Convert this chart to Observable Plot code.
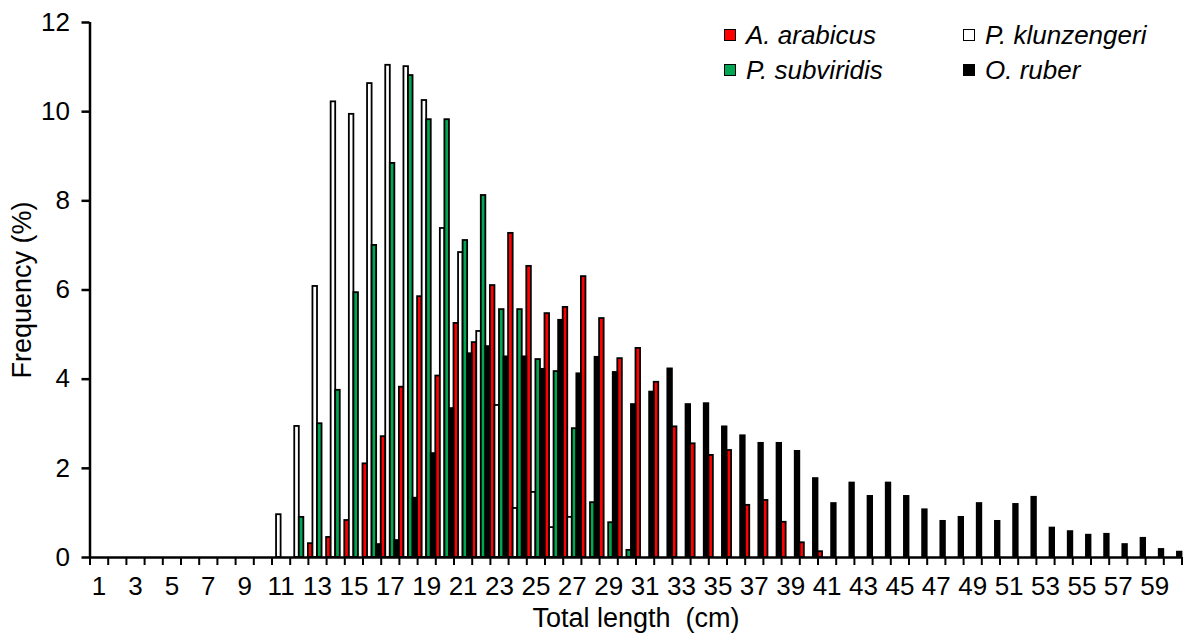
<!DOCTYPE html>
<html>
<head>
<meta charset="utf-8">
<script src="https://cdn.jsdelivr.net/npm/d3@7"></script>
<script src="https://cdn.jsdelivr.net/npm/@observablehq/plot@0.6"></script>
<style>
  body { margin: 0; background: #fff; font-family: Arial, "Liberation Sans", sans-serif; }
  #wrap { position: relative; width: 1184px; height: 634px; overflow: hidden; }
  #wrap svg { display: block; }
  .legend { position: absolute; left: 0; top: 0; width: 1184px; height: 100px; font-size: 26px; font-style: italic; color: #000; pointer-events: none; }
  .item { position: absolute; display: flex; align-items: center; height: 30px; white-space: nowrap; }
  .sw { width: 10px; height: 10px; border: 1.5px solid #000; margin-right: 10px; }
  g[aria-label="x-axis label"], g[aria-label="y-axis label"] { font-size: 27px; }
</style>
</head>
<body>
<div id="wrap"></div>
<script>
// Categories: total length classes (cm)
const lengths = [1,2,3,4,5,6,7,8,9,10,11,12,13,14,15,16,17,18,19,20,21,22,23,24,25,26,27,28,29,30,
                 31,32,33,34,35,36,37,38,39,40,41,42,43,44,45,46,47,48,49,50,51,52,53,54,55,56,57,58,59,60];
const xTickLabels = [1,3,5,7,9,11,13,15,17,19,21,23,25,27,29,31,33,35,37,39,41,43,45,47,49,51,53,55,57,59];
const yTicks = [0,2,4,6,8,10,12];

const species = ["A. arabicus", "P. klunzengeri", "P. subviridis", "O. ruber"];
const speciesColors = ["#ff0000", "#ffffff", "#00a651", "#000000"];

// Frequency (%) per length class, 1..60
const arabicus = [0,0,0,0,0,0,0,0,0,0, 0,0,0.31,0.45,0.83,2.1,2.71,3.82,5.85,4.07,
                  5.25,4.82,6.1,7.27,6.53,5.47,5.61,6.3,5.36,4.46, 4.69,3.93,2.93,2.55,2.29,2.4,1.17,1.28,0.79,0.33,
                  0.13,0,0,0,0,0,0,0,0,0, 0,0,0,0,0,0,0,0,0,0];
const klunzengeri = [0,0,0,0,0,0,0,0,0,0, 0.96,2.94,6.08,10.22,9.94,10.63,11.04,11.01,10.25,7.38,
                  6.84,5.07,3.41,1.1,1.46,0.67,0.9,0,0,0, 0,0,0,0,0,0,0,0,0,0,
                  0,0,0,0,0,0,0,0,0,0, 0,0,0,0,0,0,0,0,0,0];
const subviridis = [0,0,0,0,0,0,0,0,0,0, 0,0.9,3.0,3.75,5.94,7.0,8.84,10.81,9.82,9.82,
                  7.11,8.12,5.56,5.56,4.44,4.17,2.89,1.23,0.78,0.16, 0,0,0,0,0,0,0,0,0,0,
                  0,0,0,0,0,0,0,0,0,0, 0,0,0,0,0,0,0,0,0,0];
const ruber = [0,0,0,0,0,0,0,0,0,0, 0,0,0,0,0,0.29,0.38,1.33,2.33,3.34,
                  4.57,4.73,4.5,4.5,4.22,5.32,4.12,4.49,4.15,3.43, 3.71,4.23,3.43,3.45,2.93,2.73,2.56,2.56,2.38,1.77,
                  1.21,1.67,1.37,1.67,1.37,1.07,0.81,0.9,1.21,0.81, 1.19,1.35,0.66,0.58,0.5,0.52,0.29,0.43,0.18,0.12];

const seriesValues = [arabicus, klunzengeri, subviridis, ruber];

// Long table built from the arrays
const rows = [];
seriesValues.forEach((vals, s) => {
  lengths.forEach((len, i) => {
    if (vals[i] > 0) rows.push({len, species: species[s], slot: s, value: vals[i]});
  });
});
const nSeries = species.length;
const boundaries = lengths.map(l => l - 0.5).concat([lengths[lengths.length - 1] + 0.5]);

const chart = Plot.plot({
  width: 1184,
  height: 634,
  marginLeft: 89.5,
  marginRight: 2.5,
  marginTop: 22,
  marginBottom: 77,
  style: { fontFamily: 'Arial, "Liberation Sans", sans-serif', color: "#000", background: "#fff" },
  x: { type: "linear", domain: [boundaries[0], boundaries[boundaries.length - 1]] },
  y: { domain: [0, 12] },
  color: { domain: species, range: speciesColors },
  marks: [
    Plot.rect(rows, {
      x1: d => d.len - 0.5 + d.slot / nSeries,
      x2: d => d.len - 0.5 + (d.slot + 1) / nSeries,
      y1: 0,
      y2: "value",
      fill: "species",
      stroke: "#000",
      strokeWidth: 1.8
    }),
    Plot.axisY({
      ticks: yTicks, tickSize: 8, tickPadding: 12, fontSize: 26, strokeWidth: 2.5,
      label: "Frequency (%)", labelAnchor: "center", labelArrow: "none", labelOffset: 78
    }),
    Plot.axisX({
      ticks: boundaries, tickSize: 8, strokeWidth: 2, tickFormat: () => "", label: null
    }),
    Plot.axisX({
      ticks: xTickLabels, tickSize: 0, tickPadding: 19, fontSize: 26,
      label: "Total length\u00a0 (cm)", labelAnchor: "center", labelArrow: "none", labelOffset: 69
    }),
    Plot.ruleX([boundaries[0]], { stroke: "#000", strokeWidth: 2.5 }),
    Plot.ruleY([0], { stroke: "#000", strokeWidth: 2.5 })
  ]
});

const wrap = document.getElementById("wrap");
wrap.appendChild(chart);

// Legend (inside the plot area, top right)
const legend = document.createElement("div");
legend.className = "legend";
const legendPos = [
  {s: 0, left: 724, top: 20},
  {s: 1, left: 963, top: 20},
  {s: 2, left: 724, top: 55},
  {s: 3, left: 963, top: 55}
];
legendPos.forEach(p => {
  const it = document.createElement("div");
  it.className = "item";
  it.style.left = p.left + "px";
  it.style.top = p.top + "px";
  const sw = document.createElement("span");
  sw.className = "sw";
  sw.style.background = speciesColors[p.s];
  const tx = document.createElement("span");
  tx.textContent = species[p.s];
  it.appendChild(sw);
  it.appendChild(tx);
  legend.appendChild(it);
});
wrap.appendChild(legend);
</script>
</body>
</html>
